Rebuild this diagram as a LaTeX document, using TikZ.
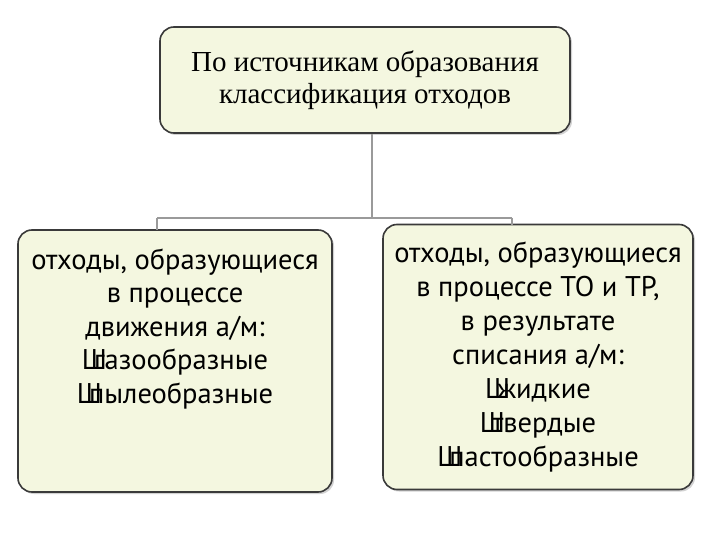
\documentclass[tikz,border=0pt]{standalone}
\usepackage{fontspec}
\setmainfont{Liberation Serif}
\newfontfamily\boxfont{PT Sans}
\usetikzlibrary{shadows}
\definecolor{boxfill}{HTML}{F4F7E0}
\definecolor{boxline}{HTML}{3A3A3A}
\definecolor{conn}{HTML}{9A9A9A}
\tikzset{
  bx/.style={draw=boxline,line width=1.6pt,fill=boxfill,rounded corners=14pt,
    drop shadow={shadow xshift=2pt,shadow yshift=-2pt,opacity=0.35}},
  cn/.style={draw=conn,line width=1.5pt}
}
\begin{document}
\begin{tikzpicture}[x=1pt,y=-1pt]
\useasboundingbox (0,0) rectangle (720,540);
\fill[white] (0,0) rectangle (720,540);
\node[bx,minimum width=410,minimum height=106,align=center,font=\fontsize{29}{32}\selectfont] (top) at (365,80)
 {По источникам образования\\классификация отходов};
\node[bx,minimum width=314,minimum height=262,align=center,font=\boxfont\fontsize{28.5}{33.5}\selectfont] (left) at (175,361)
 {отходы, образующиеся\\в процессе\\движения а/м:\\Ш\kern-0.45em газообразные\\Ш\kern-0.45em пылеобразные\\[1.3em]};
\node[bx,minimum width=310,minimum height=265,align=center,font=\boxfont\fontsize{28.5}{34}\selectfont] (right) at (538,357)
 {отходы, образующиеся\\в процессе ТО и ТР,\\в результате\\списания а/м:\\Ш\kern-0.45em жидкие\\Ш\kern-0.45em твердые\\Ш\kern-0.45em пастообразные};
\coordinate (j) at (372,218);
\draw[cn] (top.south -| j) -- (j);
\draw[cn] (157,218) -- (512,218);
\draw[cn] (157,218) -- (157,230);
\draw[cn] (512,218) -- (512,225);
\end{tikzpicture}
\end{document}
